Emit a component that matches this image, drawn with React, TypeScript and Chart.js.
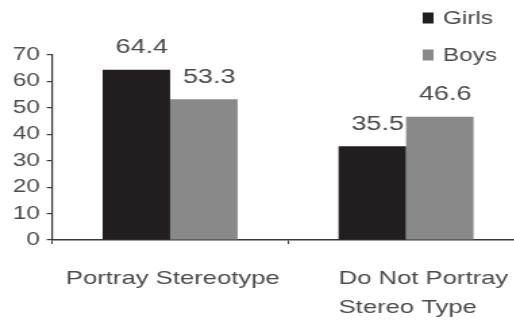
import React, { useEffect, useRef } from "react";
import { Chart, registerables } from "chart.js";

Chart.register(...registerables);

// ---- data ----
const categories: string[][] = [["Portray Stereotype"], ["Do Not Portray", "Stereo Type"]];
const seriesNames = ["Girls", "Boys"];
const girlsValues = [64.4, 35.5];
const boysValues = [53.3, 46.6];
const yMin = 0;
const yMax = 70;
const yStep = 10;

// ---- style ----
const GIRLS_COLOR = "#221e1f";
const BOYS_COLOR = "#898989";
const TEXT_COLOR = "#4a4a4a";
const AXIS_COLOR = "#3a3a3a";
const FONT = "'Liberation Sans', Arial, Helvetica, sans-serif";
const STRETCH = 1.35; // reference text is horizontally stretched
const CANVAS_W = 388;
const CANVAS_H = 320;

const overlayPlugin = {
  id: "overlay",
  afterDatasetsDraw(chart: any) {
    const ctx = chart.ctx as CanvasRenderingContext2D;
    ctx.save();
    ctx.fillStyle = TEXT_COLOR;

    // value labels
    ctx.font = `20px ${FONT}`;
    ctx.textAlign = "center";
    ctx.textBaseline = "middle";
    chart.data.datasets.forEach((ds: any, i: number) => {
      const meta = chart.getDatasetMeta(i);
      meta.data.forEach((bar: any, j: number) => {
        ctx.fillText(String(ds.data[j]), bar.x + 4, bar.y - 22);
      });
    });

    // category labels
    const xs = chart.scales.x;
    ctx.font = `19px ${FONT}`;
    ctx.textBaseline = "alphabetic";
    const baseY = xs.bottom - 36;
    categories.forEach((lines, j) => {
      const cx = xs.getPixelForValue(j);
      if (lines.length === 1) {
        ctx.textAlign = "center";
        ctx.fillText(lines[0], cx + 2, baseY);
      } else {
        const bar: any = chart.getDatasetMeta(0).data[j];
        const left = bar.x - bar.width / 2;
        ctx.textAlign = "left";
        lines.forEach((l, k) => ctx.fillText(l, left, baseY + k * 29));
      }
    });

    // legend
    ctx.font = `18px ${FONT}`;
    ctx.textAlign = "left";
    ctx.textBaseline = "middle";
    const colors = [GIRLS_COLOR, BOYS_COLOR];
    seriesNames.forEach((name, i) => {
      const cy = 18 + i * 37;
      ctx.fillStyle = colors[i];
      ctx.fillRect(313, cy - 5.5, 8, 11);
      ctx.fillStyle = TEXT_COLOR;
      ctx.fillText(name, 328, cy + 1);
    });
    ctx.restore();
  },
};

export default function App() {
  const ref = useRef<HTMLCanvasElement | null>(null);

  useEffect(() => {
    if (!ref.current) return;
    const chart = new Chart(ref.current, {
      type: "bar",
      data: {
        labels: categories,
        datasets: [
          {
            label: seriesNames[0],
            data: girlsValues,
            backgroundColor: GIRLS_COLOR,
            borderWidth: 0,
            categoryPercentage: 0.572,
            barPercentage: 1.0,
          },
          {
            label: seriesNames[1],
            data: boysValues,
            backgroundColor: BOYS_COLOR,
            borderWidth: 0,
            categoryPercentage: 0.572,
            barPercentage: 1.0,
          },
        ],
      },
      options: {
        responsive: false,
        animation: false,
        devicePixelRatio: 1,
        layout: { padding: { top: 55, left: 0, right: 0, bottom: 0 } },
        plugins: {
          legend: { display: false },
          tooltip: { enabled: false },
        },
        scales: {
          x: {
            afterFit: (scale: any) => {
              scale.height = 80;
            },
            ticks: { display: false },
            grid: {
              display: true,
              offset: true,
              drawOnChartArea: false,
              drawTicks: true,
              tickLength: 4,
              color: AXIS_COLOR,
              lineWidth: 1,
            },
            border: { display: true, color: AXIS_COLOR, width: 1.6 },
          },
          y: {
            min: yMin,
            max: yMax,
            afterFit: (scale: any) => {
              scale.width = 38.6;
            },
            ticks: {
              stepSize: yStep,
              padding: 5,
              color: TEXT_COLOR,
              font: { size: 18, family: FONT },
            },
            grid: {
              display: true,
              drawOnChartArea: false,
              drawTicks: true,
              tickLength: 4,
              color: AXIS_COLOR,
              lineWidth: 1.2,
            },
            border: { display: true, color: AXIS_COLOR, width: 1.2 },
          },
        },
      },
      plugins: [overlayPlugin],
    });
    return () => chart.destroy();
  }, []);

  return (
    <div
      style={{
        position: "fixed",
        left: 0,
        top: 0,
        width: 514,
        height: 320,
        overflow: "hidden",
        background: "#fff",
      }}
    >
      <canvas
        ref={ref}
        width={CANVAS_W}
        height={CANVAS_H}
        style={{ width: `${CANVAS_W * STRETCH}px`, height: `${CANVAS_H}px`, display: "block" }}
      />
    </div>
  );
}
